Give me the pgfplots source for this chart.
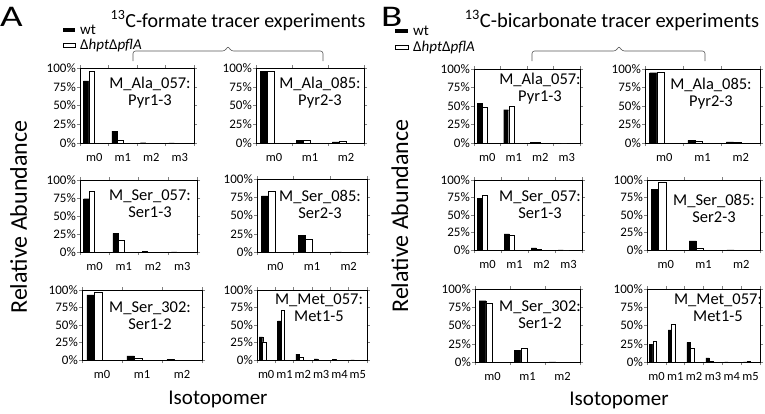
\documentclass[border=0pt]{standalone}
\usepackage{fontspec}
\setmainfont{Carlito}
\usepackage{pgfplots}
\pgfplotsset{compat=1.18}

\pgfplotsset{
  sub/.style={
    scale only axis, anchor=north west,
    ymin=0, ymax=100, ytick={0,25,50,75,100},
    yticklabel={\pgfmathprintnumber{\tick}\%},
    /pgf/number format/assume math mode=true,
    tick align=outside, major tick length=3pt,
    tick style={gray, line width=0.5pt},
    axis line style={black, line width=0.5pt},
    ticklabel style={font=\fontsize{12.5}{12.5}\selectfont},
    yticklabel style={inner sep=1pt, font=\fontsize{13}{13}\selectfont},
    xticklabel style={yshift=-4pt},
    xmin=-0.5,
  },
  wt/.style={ybar, fill=black, draw=black, line width=0.3pt, bar width=0.19, bar shift=-0.285},
  mu/.style={ybar, fill=white, draw=black, line width=0.4pt, bar width=0.19, bar shift=-0.095},
}

% #1 left, #2 top, #3 width, #4 height, #5 xmax, #6 xticks, #7 labels, #8 wt, #9 mutant
\newcommand{\subplot}[9]{%
\begin{axis}[sub, at={(#1pt,-#2pt)}, width=#3pt, height=#4pt, xmax=#5,
  xtick={#6}, xticklabels={#7}, xticklabel style={xshift={#3pt/(2*(#5+0.5))}}]
\addplot[wt] coordinates {#8};
\addplot[mu] coordinates {#9};
\end{axis}}

\begin{document}
\begin{tikzpicture}
\useasboundingbox (0,0) rectangle (765pt,-413pt);

% ---------------- Panel A ----------------
\subplot{80}{68}{114}{75}{3.5}{-0.5,0.5,1.5,2.5,3.5}{m0,m1,m2,m3,}
  {(0,83) (1,16) (2,0.4) (3,0.2)}{(0,96) (1,4) (2,0.3) (3,0.1)}
\subplot{256}{68}{108}{75}{2.5}{-0.5,0.5,1.5,2.5}{m0,m1,m2,}
  {(0,96) (1,3.5) (2,1.5)}{(0,96) (1,3.5) (2,1.8)}
\subplot{80}{180}{117}{72}{3.5}{-0.5,0.5,1.5,2.5,3.5}{m0,m1,m2,m3,}
  {(0,74) (1,26) (2,0.5) (3,0.2)}{(0,84) (1,16) (2,0.3) (3,0.1)}
\subplot{257}{179}{110}{73}{2.5}{-0.5,0.5,1.5,2.5}{m0,m1,m2,}
  {(0,77) (1,23) (2,0.3)}{(0,83) (1,17) (2,0.2)}
\subplot{82}{290}{120}{70}{2.5}{-0.5,0.5,1.5,2.5}{m0,m1,m2,}
  {(0,93) (1,6) (2,0.7)}{(0,97) (1,3) (2,0.2)}
\subplot{257}{290}{110}{70}{5.5}{-0.5,0.5,1.5,2.5,3.5,4.5,5.5}{m0,m1,m2,m3,m4,m5,}
  {(0,33) (1,56) (2,8.5) (3,1.5) (4,0.7) (5,0.2)}{(0,26) (1,71) (2,3.5) (3,0.3) (4,0.2) (5,0.1)}

% ---------------- Panel B ----------------
\subplot{474}{69}{106}{74}{3.5}{-0.5,0.5,1.5,2.5,3.5}{m0,m1,m2,m3,}
  {(0,54) (1,45) (2,1) (3,0)}{(0,48) (1,50) (2,0.5) (3,0)}
\subplot{645}{69}{115}{74}{2.5}{-0.5,0.5,1.5,2.5}{m0,m1,m2,}
  {(0,95) (1,3.5) (2,1.5)}{(0,96) (1,2.5) (2,1.5)}
\subplot{474}{180}{108}{70}{3.5}{-0.5,0.5,1.5,2.5,3.5}{m0,m1,m2,m3,}
  {(0,74) (1,23) (2,3) (3,0.2)}{(0,79) (1,21) (2,0.5) (3,0)}
\subplot{647}{180}{113}{70}{2.5}{-0.5,0.5,1.5,2.5}{m0,m1,m2,}
  {(0,87) (1,13) (2,0.3)}{(0,97) (1,2.5) (2,0.2)}
\subplot{475}{289}{105}{73}{2.5}{-0.5,0.5,1.5,2.5}{m0,m1,m2,}
  {(0,84) (1,16) (2,0.3)}{(0,81) (1,19) (2,0.2)}
\subplot{647}{289}{113}{73}{5.5}{-0.5,0.5,1.5,2.5,3.5,4.5,5.5}{m0,m1,m2,m3,m4,m5,}
  {(0,24) (1,44) (2,27) (3,5.5) (4,0.3) (5,0.3)}{(0,28) (1,52) (2,19) (3,0.5) (4,0.3) (5,1)}

% ---------------- annotations ----------------
\tikzset{ann/.style={align=center, font=\fontsize{16.5}{17}\selectfont, inner sep=0pt}}
\node[ann] at (150pt,-93pt) {M\_Ala\_057:\\Pyr1-3};
\node[ann] at (320pt,-93pt) {M\_Ala\_085:\\Pyr2-3};
\node[ann] at (150pt,-204pt) {M\_Ser\_057:\\Ser1-3};
\node[ann] at (320pt,-204pt) {M\_Ser\_085:\\Ser2-3};
\node[ann] at (150pt,-316pt) {M\_Ser\_302:\\Ser1-2};
\node[ann] at (319pt,-308pt) {M\_Met\_057:\\Met1-5};
\node[ann] at (540pt,-89pt) {M\_Ala\_057:\\Pyr1-3};
\node[ann] at (711pt,-94pt) {M\_Ala\_085:\\Pyr2-3};
\node[ann] at (540pt,-205pt) {M\_Ser\_057:\\Ser1-3};
\node[ann] at (714pt,-208pt) {M\_Ser\_085:\\Ser2-3};
\node[ann] at (540pt,-315pt) {M\_Ser\_302:\\Ser1-2};
\node[ann] at (718pt,-308pt) {M\_Met\_057:\\Met1-5};

% panel letters
\node[anchor=base west, inner sep=0pt, font=\fontsize{30}{30}\selectfont] at (0pt,-26pt) {\scalebox{1.3}[1]{A}};
\node[anchor=base west, inner sep=0pt, font=\fontsize{30}{30}\selectfont] at (381pt,-26pt) {\scalebox{1.3}[1]{B}};

% legends
\fill (63pt,-28pt) rectangle (75pt,-32pt);
\draw[line width=0.4pt] (63.5pt,-43pt) rectangle (75pt,-47pt);
\node[anchor=west, inner sep=0pt, font=\fontsize{15}{15}\selectfont] at (80pt,-30pt) {wt};
\node[anchor=west, inner sep=0pt, font=\fontsize{15}{15}\selectfont] at (80pt,-45pt) {Δ\textit{hpt}Δ\textit{pflA}};
\fill (395pt,-29pt) rectangle (408pt,-33pt);
\draw[line width=0.4pt] (395.5pt,-45pt) rectangle (408pt,-49pt);
\node[anchor=west, inner sep=0pt, font=\fontsize{15}{15}\selectfont] at (413pt,-31pt) {wt};
\node[anchor=west, inner sep=0pt, font=\fontsize{15}{15}\selectfont] at (413pt,-47pt) {Δ\textit{hpt}Δ\textit{pflA}};

% titles
\node[anchor=base, inner sep=0pt, font=\fontsize{20}{20}\selectfont] at (238pt,-27pt) {\textsuperscript{13}C-formate tracer experiments};
\node[anchor=base, inner sep=0pt, font=\fontsize{20.5}{20.5}\selectfont] at (612pt,-27pt) {\textsuperscript{13}C-bicarbonate tracer experiments};

% braces
\draw[gray!70!black, line width=0.6pt, rounded corners=2.5pt] (133pt,-61pt) -- (133pt,-51pt) -- (225pt,-51pt) -- (228pt,-46pt) -- (231pt,-51pt) -- (323pt,-51pt) -- (323pt,-61pt);
\draw[gray!70!black, line width=0.6pt, rounded corners=2.5pt] (532pt,-61pt) -- (532pt,-51pt) -- (616pt,-51pt) -- (619pt,-46pt) -- (622pt,-51pt) -- (705pt,-51pt) -- (705pt,-61pt);

% axis titles
\node[rotate=90, anchor=base, inner sep=0pt, font=\fontsize{24}{24}\selectfont] at (27pt,-217pt) {Relative Abundance};
\node[rotate=90, anchor=base, inner sep=0pt, font=\fontsize{24}{24}\selectfont] at (408pt,-216pt) {Relative Abundance};
\node[anchor=base, inner sep=0pt, font=\fontsize{21}{21}\selectfont] at (218pt,-404pt) {Isotopomer};
\node[anchor=base, inner sep=0pt, font=\fontsize{21}{21}\selectfont] at (619pt,-405pt) {Isotopomer};
\end{tikzpicture}
\end{document}
